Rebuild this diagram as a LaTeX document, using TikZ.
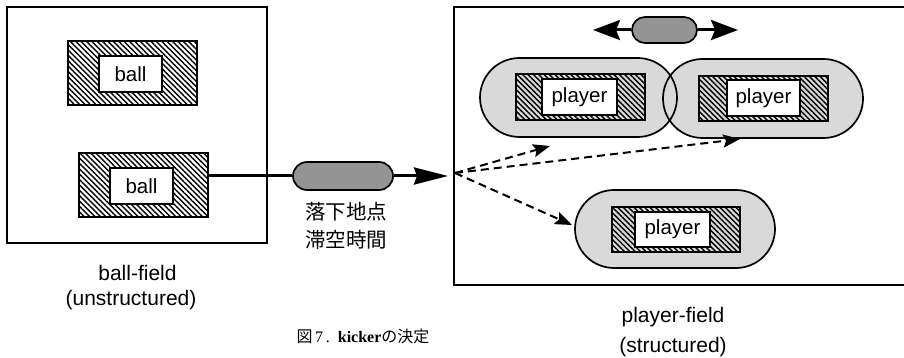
\documentclass[tikz,border=0pt]{standalone}
\usepackage{fontspec}
\setmainfont{Liberation Sans}
\newfontfamily\cjk{Noto Sans CJK JP}
\newfontfamily\capserif{Liberation Serif}
\usetikzlibrary{arrows.meta,patterns.meta,shapes.misc}
\begin{document}
\begin{tikzpicture}[x=1pt,y=-1pt,
  field/.style={draw,line width=1.7pt,inner sep=0pt},
  hatchbox/.style={draw,line width=2pt,inner sep=0pt,
    pattern={Lines[angle=-45,distance=3.8pt,line width=1.4pt]}},
  whitebox/.style={draw,line width=2pt,fill=white,inner sep=0pt,
    font=\fontsize{20.5}{24}\selectfont},
  capfill/.style={rounded rectangle,fill=black!15,inner sep=0pt},
  capline/.style={rounded rectangle,draw,line width=1.7pt,inner sep=0pt},
  smallcap/.style={rounded rectangle,draw,line width=1.7pt,fill=black!42,inner sep=0pt},
  lbl/.style={font=\fontsize{21}{25}\selectfont,inner sep=0pt},
  jlbl/.style={font=\cjk\fontsize{20.5}{24}\selectfont,inner sep=0pt},
  bigarrow/.style={line width=3pt,-{Stealth[length=34pt,width=17pt,inset=3pt]}},
  toparrow/.style={line width=3pt,-{Stealth[length=27pt,width=20pt,inset=4pt]}},
  dasharrow/.style={line width=2pt,dash pattern=on 8pt off 5pt,
    -{Stealth[length=17pt,width=13pt,inset=3pt]}}
]
\useasboundingbox (0,0) rectangle (904,358);

% ---- left field ----
\node[field,minimum width=260pt,minimum height=236pt] (leftbox) at (137,125) {};
\node[hatchbox,minimum width=129pt,minimum height=64pt] (ball1) at (132.5,73) {};
\node[whitebox,minimum width=63pt,minimum height=36pt] (ball1in) at (130.5,74) {ball};
\node[hatchbox,minimum width=129pt,minimum height=64pt] (ball2) at (143.5,185) {};
\node[whitebox,minimum width=63pt,minimum height=36pt] (ball2in) at (141.5,186) {ball};
\node[lbl] (bf1) at (137.5,273) {ball-field};
\node[lbl] (bf2) at (131,300) {(unstructured)};

% ---- middle ----
\node[smallcap,minimum width=100pt,minimum height=28pt] (mid) at (343,176) {};
\draw[line width=3pt] (ball2.east |- mid.west) -- (mid.west);
\coordinate (tip) at (448,176);
\draw[bigarrow] (mid.east) -- (tip);
\node[jlbl] (j1) at (346,212) {落下地点};
\node[jlbl] (j2) at (346,240) {滞空時間};

% ---- right field ----
\coordinate (rtr) at (906,7);
\coordinate (rtl) at (454,7);
\coordinate (rbl) at (454,285);
\coordinate (rbr) at (906,285);
\draw[line width=1.8pt] (rtr) -- (rtl) -- (rbl) -- (rbr);

% top small capsule with double arrow
\coordinate (la) at (593,30);
\coordinate (ra) at (738,30);
\node[smallcap,minimum width=65pt,minimum height=26pt] (topcap) at (664.5,30) {};
\draw[toparrow] (topcap.west) -- (la);
\draw[toparrow] (topcap.east) -- (ra);

% player capsules
\node[capfill,minimum width=197pt,minimum height=79pt] (cap1) at (578.5,97.5) {};
\node[capfill,minimum width=200pt,minimum height=79pt] (cap2) at (763,98.5) {};
\node[capfill,minimum width=200pt,minimum height=78pt] (cap3) at (675,229) {};
\node[capline,minimum width=197pt,minimum height=79pt] (cap1o) at (578.5,97.5) {};
\node[capline,minimum width=200pt,minimum height=79pt] (cap2o) at (763,98.5) {};
\node[capline,minimum width=200pt,minimum height=78pt] (cap3o) at (675,229) {};

\node[hatchbox,minimum width=129pt,minimum height=46pt] (h1) at (580.5,97) {};
\node[whitebox,minimum width=75pt,minimum height=36pt] (p1) at (579.5,97) {player};
\node[hatchbox,minimum width=129pt,minimum height=45pt] (h2) at (763.5,98.5) {};
\node[whitebox,minimum width=73pt,minimum height=36pt] (p2) at (763.5,98) {player};
\node[hatchbox,minimum width=128pt,minimum height=45pt] (h3) at (676,229.5) {};
\node[whitebox,minimum width=75pt,minimum height=35pt] (p3) at (672.5,229.5) {player};

% dashed arrows
\coordinate (o) at (455,173);
\coordinate (t1) at (550,146);
\coordinate (t2) at (740,139);
\coordinate (t3) at (572,225);
\draw[dasharrow] (o) -- (t1);
\draw[dasharrow] (o) -- (t2);
\draw[dasharrow] (o) -- (t3);

\node[lbl] (pf1) at (673,317) {player-field};
\node[lbl] (pf2) at (673,347) {(structured)};

% caption
\node[inner sep=0pt,font=\fontsize{16}{19}\selectfont] (cap) at (363,336)
  {{\cjk 図}\,{\capserif 7\,.\enspace\bfseries kicker}{\cjk の決定}};
\end{tikzpicture}
\end{document}
